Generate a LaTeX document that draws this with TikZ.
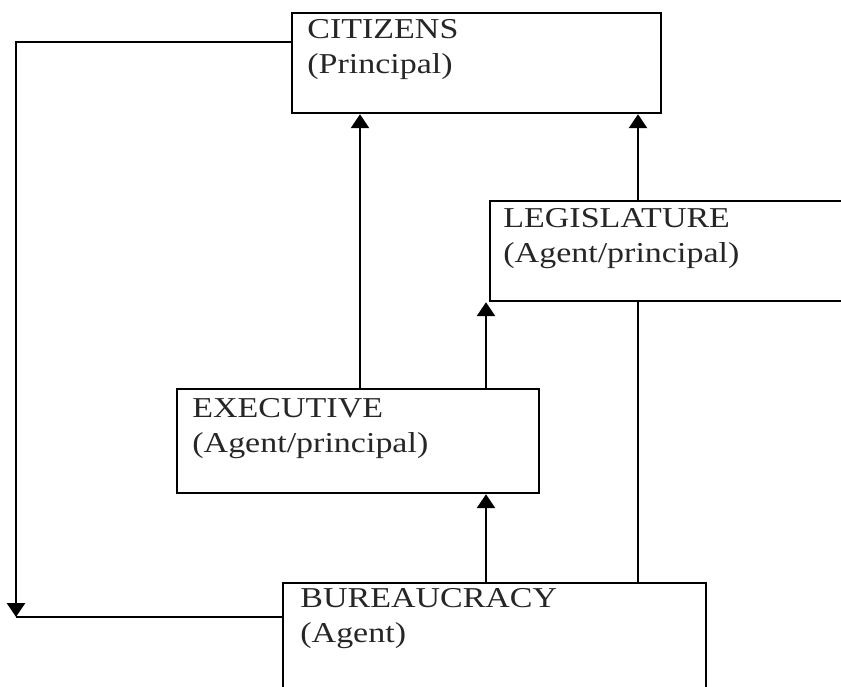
\documentclass[tikz,border=0pt]{standalone}
\usepackage{fontspec}
\setmainfont[FakeStretch=1.18]{Liberation Serif}
\usetikzlibrary{arrows.meta}
\newcommand{\twolines}[2]{\vtop{\baselineskip=17.5pt\hbox{#1}\hbox{#2}}}
\begin{document}
\begin{tikzpicture}[x=0.5pt,y=-0.5pt,
  box/.style={draw, line width=1.1pt, inner sep=0pt, anchor=north west},
  lbl/.style={inner sep=0pt, anchor=base west, text=black!85, font=\fontsize{14.4pt}{17.5pt}\selectfont},
  conn/.style={line width=1.3pt},
  arr/.style={conn, -{Triangle[length=7pt,width=9pt]}}]
\useasboundingbox (0,0) rectangle (841,686);
\clip (0,0) rectangle (841,686);
% boxes
\node[box, minimum width=184.5pt, minimum height=50pt] (cit) at (291,12) {};
\node[box, minimum width=195.5pt, minimum height=50pt] (leg) at (489,200) {};
\node[box, minimum width=181pt, minimum height=52pt] (ex) at (176,388) {};
\node[box, minimum width=211.5pt, minimum height=70pt] (bur) at (282,582) {};
% labels
\node[lbl] (citt) at (307,38) {\twolines{CITIZENS}{(Principal)}};
\node[lbl] (legt) at (503,227) {\twolines{LEGISLATURE}{(Agent/principal)}};
\node[lbl] (ext) at (192,417) {\twolines{EXECUTIVE}{(Agent/principal)}};
\node[lbl] (burt) at (300,607) {\twolines{BUREAUCRACY}{(Agent)}};
% helper coordinates
\coordinate (c1) at (360,0);
\coordinate (c2) at (486,0);
\coordinate (c3) at (638,0);
\coordinate (ltop) at (16,42);
\coordinate (lbot) at (16,617);
% connectors
\draw[arr] (ex.north -| c1) -- (cit.south -| c1);
\draw[arr] (leg.north -| c3) -- (cit.south -| c3);
\draw[arr] (ex.north -| c2) -- (leg.south -| c2);
\draw[arr] (bur.north -| c2) -- (ex.south -| c2);
\draw[conn] (leg.south -| c3) -- (bur.north -| c3);
\draw[arr] (cit.west |- ltop) -- (ltop) -- (lbot);
\draw[conn] (bur.west |- lbot) -- (lbot);
\end{tikzpicture}
\end{document}
